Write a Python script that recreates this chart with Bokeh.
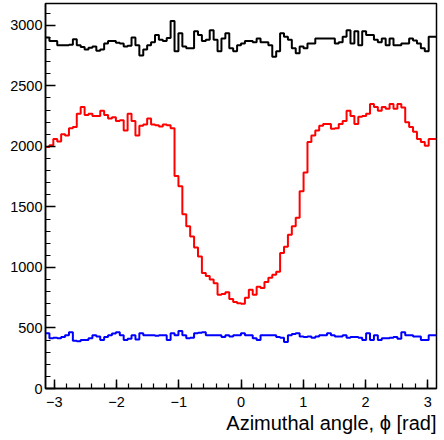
import numpy as np
from bokeh.plotting import figure
from bokeh.models import Range1d, Title, FixedTicker
from bokeh.embed import file_html
from bokeh.resources import INLINE

# Histogram: 100 bins of azimuthal angle from -pi to pi
n_bins = 100
phi_min, phi_max = -np.pi, np.pi

black_counts = [
    2900, 2870, 2870, 2835, 2835, 2835, 2840, 2885, 2835, 2820,
    2800, 2815, 2825, 2790, 2800, 2850, 2870, 2870, 2855, 2850,
    2825, 2830, 2900, 2835, 2750, 2800, 2835, 2860, 2920, 2880,
    2870, 2895, 3035, 2785, 2935, 2825, 2810, 2810, 2950, 2920,
    2870, 2880, 2960, 2880, 2785, 2890, 2935, 2810, 2785, 2835,
    2850, 2870, 2870, 2860, 2890, 2860, 2860, 2835, 2740, 2785,
    2935, 2905, 2880, 2810, 2770, 2825, 2810, 2850, 2850, 2890,
    2890, 2890, 2890, 2890, 2850, 2860, 2905, 2960, 2850, 2950,
    2835, 2950, 2920, 2920, 2880, 2860, 2890, 2835, 2890, 2835,
    2835, 2850, 2850, 2890, 2875, 2850, 2810, 2785, 2905, 2905,
]

red_counts = [
    1995, 2010, 2060, 2040, 2100, 2090, 2150, 2160, 2270, 2325,
    2260, 2270, 2250, 2250, 2295, 2260, 2230, 2240, 2210, 2215,
    2130, 2270, 2210, 2090, 2170, 2180, 2230, 2180, 2175, 2165,
    2180, 2175, 2150, 1755, 1670, 1440, 1340, 1255, 1165, 1090,
    955, 930, 900, 870, 775, 780, 795, 740, 715, 705,
    700, 750, 815, 775, 840, 830, 880, 915, 940, 965,
    1120, 1170, 1270, 1340, 1410, 1630, 1785, 2035, 2090, 2130,
    2170, 2185, 2185, 2145, 2150, 2185, 2210, 2295, 2250, 2185,
    2245, 2250, 2270, 2350, 2325, 2295, 2325, 2310, 2350, 2310,
    2350, 2320, 2200, 2160, 2120, 2060, 2035, 2005, 2060, 2060,
]

blue_counts = [
    457, 415, 420, 415, 425, 440, 465, 395, 390, 400,
    400, 415, 440, 430, 400, 425, 440, 455, 465, 440,
    400, 410, 440, 405, 457, 440, 440, 440, 435, 440,
    440, 400, 457, 440, 475, 440, 415, 420, 457, 460,
    465, 440, 440, 440, 440, 425, 440, 430, 440, 440,
    457, 440, 440, 415, 400, 440, 440, 440, 440, 425,
    420, 385, 440, 450, 457, 430, 425, 430, 420, 430,
    440, 440, 457, 440, 430, 430, 440, 420, 425, 425,
    420, 400, 457, 400, 440, 400, 415, 415, 420, 425,
    410, 465, 440, 440, 430, 430, 400, 400, 440, 440,
]

x_ticks = [-3, -2, -1, 0, 1, 2, 3]
y_ticks = [0, 500, 1000, 1500, 2000, 2500, 3000]
x_label = "Azimuthal angle, \u03d5 [rad]"

FONT = "Liberation Sans"

p = figure(width=444, height=440, output_backend="svg", toolbar_location=None,
           x_range=Range1d(phi_min, phi_max), y_range=Range1d(0, 3180),
           min_border_left=45, min_border_right=8, min_border_top=3,
           min_border_bottom=52)
p.background_fill_color = "white"
p.border_fill_color = "white"
p.grid.visible = False
p.outline_line_color = "black"
p.outline_line_width = 1.5
p.outline_line_alpha = 1.0

edges = np.linspace(phi_min, phi_max, n_bins + 1)

def draw(counts, color):
    ys = list(counts) + [counts[-1]]
    p.step(x=edges, y=ys, mode="after", line_color=color, line_width=2)

draw(black_counts, "black")
draw(red_counts, "#ff0000")
draw(blue_counts, "#0000ff")

for ax in (p.xaxis[0], p.yaxis[0]):
    ax.axis_line_color = "black"
    ax.axis_line_width = 1.5
    ax.major_tick_line_color = "black"
    ax.minor_tick_line_color = "black"
    ax.major_tick_line_width = 1.5
    ax.minor_tick_line_width = 1.2
    ax.major_tick_out = 0
    ax.minor_tick_out = 0
    ax.major_label_text_font = FONT
    ax.major_label_text_font_size = "14.5px"
    ax.major_label_text_color = "black"

p.xaxis.ticker = FixedTicker(ticks=x_ticks,
                             minor_ticks=[round(-3.2 + 0.2 * i, 2) for i in range(33)])
p.xaxis.major_tick_in = 9
p.xaxis.minor_tick_in = 5
p.xaxis.major_label_standoff = 8
p.xaxis.major_label_overrides = {t: ("\u2212" + str(abs(t)) if t < 0 else str(t)) for t in x_ticks}

p.yaxis.ticker = FixedTicker(ticks=y_ticks, minor_ticks=list(range(0, 3200, 100)))
p.yaxis.major_tick_in = 10
p.yaxis.minor_tick_in = 5
p.yaxis.major_label_standoff = 3

p.add_layout(Title(text=x_label, align="right", text_font=FONT,
                   text_font_size="20px", text_font_style="normal",
                   text_color="black", standoff=0, offset=0), "below")

open("out.html", "w").write(file_html(p, INLINE))
